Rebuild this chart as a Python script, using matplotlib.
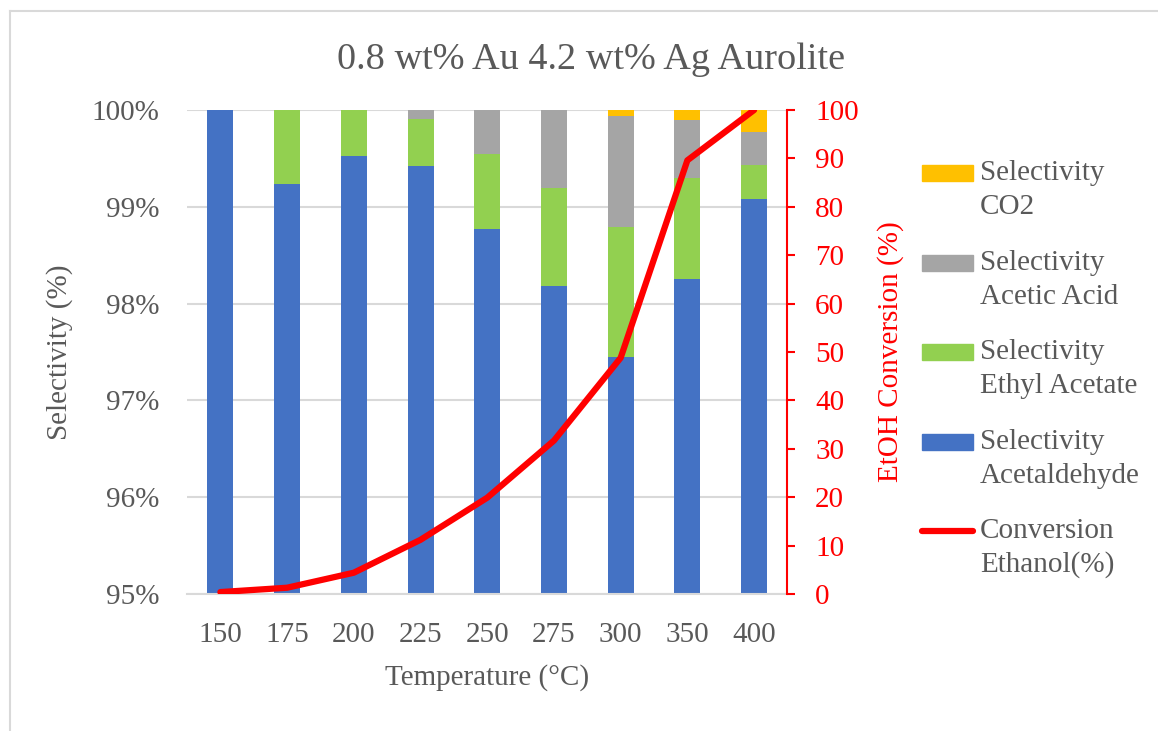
import matplotlib
matplotlib.use('Agg')
import matplotlib.pyplot as plt
from matplotlib.patches import Rectangle
from matplotlib.lines import Line2D
import numpy as np

# data
temps = ['150', '175', '200', '225', '250', '275', '300', '350', '400']
sel_acetaldehyde = [100.00, 99.24, 99.52, 99.42, 98.77, 98.18, 97.45, 98.25, 99.08]
sel_ethyl_acetate = [0.00, 0.76, 0.48, 0.49, 0.78, 1.01, 1.34, 1.05, 0.35]
sel_acetic_acid = [0.00, 0.00, 0.00, 0.09, 0.45, 0.81, 1.15, 0.60, 0.34]
sel_co2 = [0.00, 0.00, 0.00, 0.00, 0.00, 0.00, 0.06, 0.10, 0.23]
conversion = [0.4, 1.3, 4.4, 11.2, 19.9, 31.7, 48.8, 89.6, 100.0]

c_blue = '#4472C4'
c_green = '#92D050'
c_grey = '#A5A5A5'
c_yellow = '#FFC000'
txt = '#595959'
font = 'Liberation Serif'
plt.rcParams['font.family'] = font

fig = plt.figure(figsize=(11.58, 7.31), dpi=100)
ax = fig.add_axes([0.1615, 0.1874, 0.5185, 0.6621])

x = np.arange(len(temps))
w = 0.39
base = 95.0
b1 = np.array(sel_acetaldehyde)
b2 = b1 + np.array(sel_ethyl_acetate)
b3 = b2 + np.array(sel_acetic_acid)
ax.bar(x, b1 - base, w, bottom=base, color=c_blue, zorder=2)
ax.bar(x, sel_ethyl_acetate, w, bottom=b1, color=c_green, zorder=2)
ax.bar(x, sel_acetic_acid, w, bottom=b2, color=c_grey, zorder=2)
ax.bar(x, sel_co2, w, bottom=b3, color=c_yellow, zorder=2)

ax.set_ylim(95, 100)
ax.set_xlim(-0.5, len(temps) - 0.5)
ax.set_yticks([95, 96, 97, 98, 99, 100])
ax.set_yticklabels(['95%', '96%', '97%', '98%', '99%', '100%'])
ax.set_xticks(x)
ax.set_xticklabels(temps)
ax.grid(axis='y', color='#D9D9D9', linewidth=1.5, zorder=0)
ax.set_axisbelow(True)
for s in ['top', 'left', 'right']:
    ax.spines[s].set_visible(False)
ax.spines['bottom'].set_color('#D9D9D9')
ax.spines['bottom'].set_linewidth(1.5)
ax.tick_params(axis='y', length=0, pad=20, labelsize=21, labelcolor=txt)
ax.tick_params(axis='x', length=0, pad=20, labelsize=21, labelcolor=txt)
ax.set_xlabel('Temperature (°C)', fontsize=21, color=txt, labelpad=12)
ax.set_ylabel('Selectivity (%)', fontsize=21, color=txt)
ax.yaxis.set_label_coords(-0.19, 0.5)

ax2 = ax.twinx()
ax2.plot(x, conversion, color='#FF0000', linewidth=4.5, solid_capstyle='round', zorder=5)
ax2.set_ylim(0, 100)
ax2.set_yticks(range(0, 101, 10))
for s in ['top', 'left', 'bottom']:
    ax2.spines[s].set_visible(False)
ax2.spines['right'].set_color('#FF0000')
ax2.spines['right'].set_linewidth(1.5)
ax2.tick_params(axis='y', colors='#FF0000', length=6, width=1.5, pad=14, labelsize=21)
ax2.set_ylabel('EtOH Conversion (%)', fontsize=21, color='#FF0000', labelpad=13)

fig.text(0.51, 0.918, '0.8 wt% Au 4.2 wt% Ag Aurolite', fontsize=27.5, color=txt,
         ha='center', va='center')

# legend drawn by hand so the key sits on the first text line
entries = [(c_yellow, 'Selectivity', 'CO2', 173),
           (c_grey, 'Selectivity', 'Acetic Acid', 263),
           (c_green, 'Selectivity', 'Ethyl Acetate', 352),
           (c_blue, 'Selectivity', 'Acetaldehyde', 442)]
W, H = 1158.0, 731.0
for col, l1, l2, yc in entries:
    fig.patches.append(Rectangle((922 / W, 1 - (yc + 8) / H), 51 / W, 16 / H,
                                 transform=fig.transFigure, color=col, figure=fig))
    fig.text(980 / W, 1 - yc / H, l1, fontsize=21, color=txt, va='center', ha='left')
    fig.text(980 / W, 1 - (yc + 34) / H, l2, fontsize=21, color=txt, va='center', ha='left')
fig.add_artist(Line2D([922 / W, 973 / W], [1 - 531 / H, 1 - 531 / H], color='#FF0000',
                      linewidth=4.5, solid_capstyle='round', transform=fig.transFigure))
fig.text(980 / W, 1 - 531 / H, 'Conversion', fontsize=21, color=txt, va='center', ha='left')
fig.text(980 / W, 1 - 565 / H, 'Ethanol(%)', fontsize=21, color=txt, va='center', ha='left')

# chart area border
fig.add_artist(Line2D([10 / W, 10 / W], [0, 1 - 11 / H], color='#D9D9D9', linewidth=1.5,
                      transform=fig.transFigure))
fig.add_artist(Line2D([10 / W, 1], [1 - 11 / H, 1 - 11 / H], color='#D9D9D9', linewidth=1.5,
                      transform=fig.transFigure))

fig.savefig('out.png', dpi=100)
